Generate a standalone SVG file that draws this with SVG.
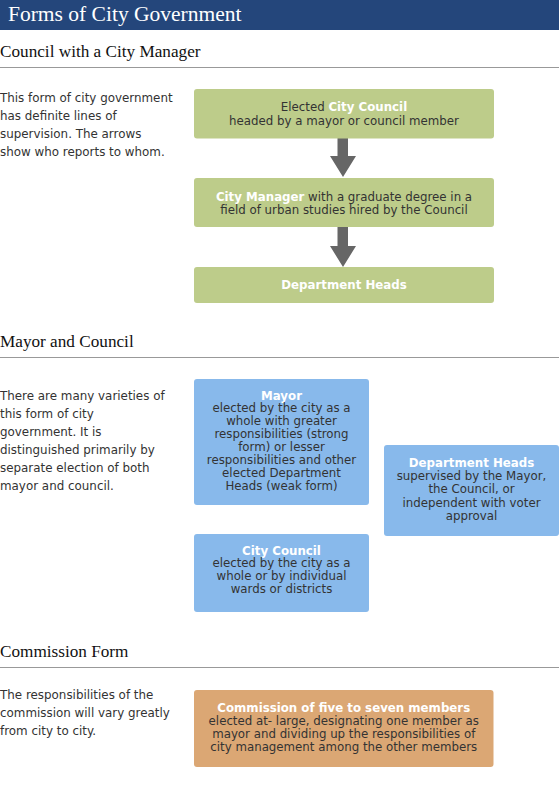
<svg xmlns="http://www.w3.org/2000/svg" width="559" height="785" viewBox="0 0 559 785">
<style>
.title{font-family:"Liberation Serif","Times New Roman",serif;font-size:21.5px;fill:#ffffff}
.h{font-family:"Liberation Serif","Times New Roman",serif;font-size:17.2px;fill:#111111}
.p{font-family:"DejaVu Sans",Verdana,sans-serif;font-size:11.9px;fill:#333333}
.t{font-family:"DejaVu Sans",Verdana,sans-serif;font-size:11.8px;fill:#333333;text-anchor:middle}
.b{font-weight:bold;fill:#ffffff}
.rule{stroke:#999999;stroke-width:1}
.green{fill:#bdcc8a}
.blue{fill:#88b9eb}
.orange{fill:#dba774}
.arrow{fill:#666666}
</style>
<rect x="0" y="0" width="559" height="30" fill="#24467b"/>
<text class="title" x="8" y="21">Forms of City Government</text>

<text class="h" x="0" y="57">Council with a City Manager</text>
<line class="rule" x1="0" y1="67.5" x2="559" y2="67.5"/>
<text class="p" x="0" y="102">This form of city government</text>
<text class="p" x="0" y="120">has definite lines of</text>
<text class="p" x="0" y="138">supervision. The arrows</text>
<text class="p" x="0" y="156">show who reports to whom.</text>

<text class="h" x="0" y="347">Mayor and Council</text>
<line class="rule" x1="0" y1="357.5" x2="559" y2="357.5"/>
<text class="p" x="0" y="400">There are many varieties of</text>
<text class="p" x="0" y="418">this form of city</text>
<text class="p" x="0" y="436">government. It is</text>
<text class="p" x="0" y="454">distinguished primarily by</text>
<text class="p" x="0" y="472">separate election of both</text>
<text class="p" x="0" y="490">mayor and council.</text>

<text class="h" x="0" y="657">Commission Form</text>
<line class="rule" x1="0" y1="667.5" x2="559" y2="667.5"/>
<text class="p" x="0" y="699">The responsibilities of the</text>
<text class="p" x="0" y="717">commission will vary greatly</text>
<text class="p" x="0" y="735">from city to city.</text>

<g id="connectors">
<polygon class="arrow" points="337.5,138 348,138 348,156 356,156 343,177 330,156 337.5,156"/>
<polygon class="arrow" points="337.5,227 348,227 348,246 356,246 343,267 330,246 337.5,246"/>
</g>

<g id="city-council-1">
<rect class="green" x="194" y="89" width="300" height="49.5" rx="3"/>
<text class="t" x="344" y="111">Elected <tspan class="b">City Council</tspan></text>
<text class="t" x="344" y="124.5">headed by a mayor or council member</text>
</g>
<g id="city-manager">
<rect class="green" x="194" y="178" width="300" height="49" rx="3"/>
<text class="t" x="344" y="200.5"><tspan class="b">City Manager</tspan> with a graduate degree in a</text>
<text class="t" x="344" y="213.5">field of urban studies hired by the Council</text>
</g>
<g id="department-heads-1">
<rect class="green" x="194" y="267" width="300" height="36" rx="3"/>
<text class="t b" x="344" y="288.5">Department Heads</text>
</g>

<g id="mayor">
<rect class="blue" x="194" y="379" width="175" height="126" rx="3"/>
<text class="t b" x="281.5" y="399.5">Mayor</text>
<text class="t" x="281.5" y="412.4">elected by the city as a</text>
<text class="t" x="281.5" y="425.3">whole with greater</text>
<text class="t" x="281.5" y="438.2">responsibilities (strong</text>
<text class="t" x="281.5" y="451.1">form) or lesser</text>
<text class="t" x="281.5" y="464">responsibilities and other</text>
<text class="t" x="281.5" y="476.9">elected Department</text>
<text class="t" x="281.5" y="489.8">Heads (weak form)</text>
</g>
<g id="city-council-2">
<rect class="blue" x="194" y="534" width="175" height="78" rx="3"/>
<text class="t b" x="281.5" y="554.5">City Council</text>
<text class="t" x="281.5" y="567.4">elected by the city as a</text>
<text class="t" x="281.5" y="580.3">whole or by individual</text>
<text class="t" x="281.5" y="593.2">wards or districts</text>
</g>
<g id="department-heads-2">
<rect class="blue" x="384" y="445" width="175" height="91" rx="3"/>
<text class="t b" x="471.5" y="467">Department Heads</text>
<text class="t" x="471.5" y="480.2">supervised by the Mayor,</text>
<text class="t" x="471.5" y="493.4">the Council, or</text>
<text class="t" x="471.5" y="506.6">independent with voter</text>
<text class="t" x="471.5" y="519.8">approval</text>
</g>

<g id="commission">
<rect class="orange" x="194" y="690" width="299.5" height="77" rx="3"/>
<text class="t b" x="343.75" y="712">Commission of five to seven members</text>
<text class="t" x="343.75" y="725">elected at- large, designating one member as</text>
<text class="t" x="343.75" y="738.2">mayor and dividing up the responsibilities of</text>
<text class="t" x="343.75" y="751.2">city management among the other members</text>
</g>
</svg>
